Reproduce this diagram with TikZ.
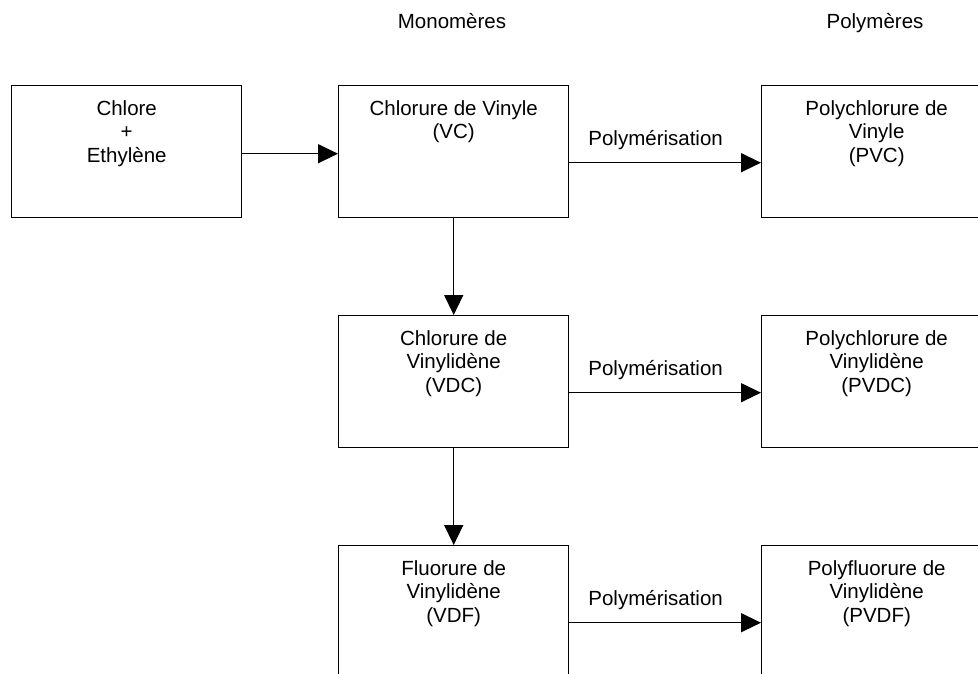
\documentclass[tikz,border=0pt]{standalone}
\usepackage{fontspec}
\setmainfont{Liberation Sans}
\usepackage{tikz}
\usetikzlibrary{arrows.meta}
\tikzset{%
	box/.style={
		draw,
		line width=1.4pt,
		minimum width=230pt,
		minimum height=132pt,
		anchor=north west,
		inner sep=0pt
	},
	boxtext/.style={
		anchor=north,
		yshift=-15pt,
		align=center,
		inner sep=0pt
	},
	arr/.style={
		line width=1.4pt,
		-{Triangle[length=20pt,width=19pt]}
	},
}

\begin{document}
\begin{tikzpicture}[x=1pt, y=-1pt, font=\fontsize{20.5}{23.6}\selectfont]
			\useasboundingbox (0,0) rectangle (978,674);
			\clip (0,0) rectangle (978,674);
			% Column titles
			\node[anchor=base] (tmono) at (452,29) {Monomères};
			\node[anchor=base] (tpoly) at (875,29) {Polymères};
			
			% Draw the boxes
			\node[box, label={[boxtext]north:Chlore\\+\\Ethylène}] (chl) at (11,85) {};
			\node[box, label={[boxtext]north:Chlorure de Vinyle\\(VC)}] (vc) at (338,85) {};
			\node[box, label={[boxtext]north:Polychlorure de\\Vinyle\\(PVC)}] (pvc) at (761,85) {};
			\node[box, label={[boxtext]north:Chlorure de\\Vinylidène\\(VDC)}] (vdc) at (338,315) {};
			\node[box, label={[boxtext]north:Polychlorure de\\Vinylidène\\(PVDC)}] (pvdc) at (761,315) {};
			\node[box, label={[boxtext]north:Fluorure de\\Vinylidène\\(VDF)}] (vdf) at (338,545) {};
			\node[box, label={[boxtext]north:Polyfluorure de\\Vinylidène\\(PVDF)}] (pvdf) at (761,545) {};
			
			% Draw the arrows
			\draw[arr] ([yshift=-2pt]chl.east) -- ([yshift=-2pt]vc.west);
			\draw[arr] (vc.south) -- (vdc.north);
			\draw[arr] (vdc.south) -- (vdf.north);
			
			\draw[arr] ([yshift=-11pt]vc.east) -- node[pos=0.45, anchor=base, yshift=17pt] (poly1) {Polymérisation} ([yshift=-11pt]pvc.west);
			\draw[arr] ([yshift=-11pt]vdc.east) -- node[pos=0.45, anchor=base, yshift=17pt] (poly2) {Polymérisation} ([yshift=-11pt]pvdc.west);
			\draw[arr] ([yshift=-11pt]vdf.east) -- node[pos=0.45, anchor=base, yshift=17pt] (poly3) {Polymérisation} ([yshift=-11pt]pvdf.west);
			
		\end{tikzpicture}
\end{document}
